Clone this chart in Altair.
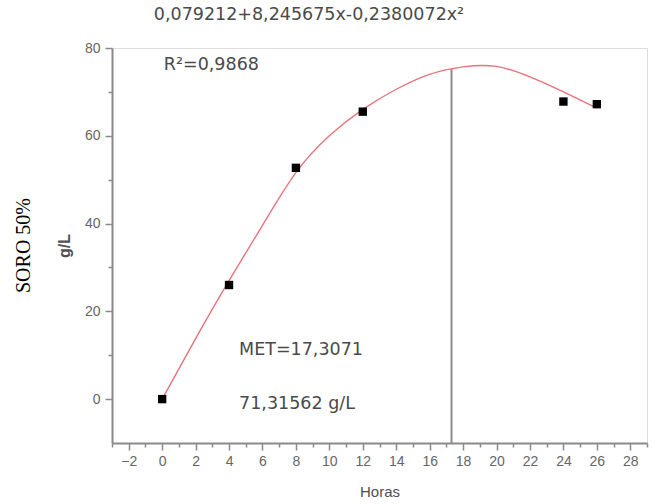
import altair as alt
import pandas as pd

# Measured concentrations (g/L) over time (hours)
horas = [0, 4, 8, 12, 24, 26]
conc = [0.0, 26.0, 52.7, 65.5, 67.8, 67.2]

# Fitted curve as drawn (hours, g/L)
curva_x = [0, 2, 4, 6, 8, 10, 12, 14, 16, 18, 20, 22, 24, 26]
curva_y = [0.0, 13.8, 27.0, 39.6, 51.6, 60.0, 66.0, 70.6, 74.0, 75.7, 75.8, 73.4, 70.0, 66.3]

# Time of maximum production and the marker line up to the curve
met_x = [17.3071, 17.3071]
met_y = [-10, 75.2]

# Annotation texts with their data positions
notas_txt = ["0,079212+8,245675x-0,2380072x²", "R²=0,9868", "MET=17,3071", "71,31562 g/L"]
notas_x = [-0.5, 0.1, 4.6, 4.6]
notas_y = [87.5, 76.1, 11.2, -1.1]

pontos = pd.DataFrame({"Horas": horas, "gL": conc})
curva = pd.DataFrame({"Horas": curva_x, "gL": curva_y})
met = pd.DataFrame({"Horas": met_x, "gL": met_y})
notas = pd.DataFrame({"Horas": notas_x, "gL": notas_y, "txt": notas_txt})

FONT = "Liberation Sans"

xscale = alt.Scale(domain=[-3, 29], nice=False, zero=False)
yscale = alt.Scale(domain=[-10, 80], nice=False, zero=False)

xaxis = alt.Axis(
    title="Horas",
    values=list(range(-3, 30)),
    labelExpr="datum.value % 2 === 0 ? datum.label : ''",
    tickSize={"condition": {"test": "datum.value % 2 === 0", "value": 7}, "value": 4},
    grid=False,
    domainColor="#8a8a8a", domainWidth=2,
    tickColor="#8a8a8a", tickWidth=1.5,
    labelFont=FONT, labelFontSize=14, labelColor="#666666", labelPadding=4,
    titleFont=FONT, titleFontSize=15, titleColor="#505050", titleFontWeight="normal",
    titlePadding=16,
)
yaxis = alt.Axis(
    title="g/L",
    values=list(range(0, 81, 10)),
    labelExpr="datum.value % 20 === 0 ? datum.label : ''",
    tickSize={"condition": {"test": "datum.value % 20 === 0", "value": 7}, "value": 4},
    grid=False,
    domainColor="#8a8a8a", domainWidth=2,
    tickColor="#8a8a8a", tickWidth=1.5,
    labelFont=FONT, labelFontSize=14, labelColor="#666666", labelPadding=5,
    titleFont=FONT, titleFontSize=16, titleColor="#505050", titleFontWeight="bold",
    titlePadding=12,
)

x = alt.X("Horas:Q", scale=xscale, axis=xaxis)
y = alt.Y("gL:Q", scale=yscale, axis=yaxis)

linha = alt.Chart(curva).mark_line(
    color="#e8737a", strokeWidth=1.4, interpolate="natural", clip=False
).encode(x=x, y=y)

vertical = alt.Chart(met).mark_line(color="#8c8c8c", strokeWidth=2).encode(x=x, y=y)

quadrados = alt.Chart(pontos).mark_square(size=70, color="#000000", opacity=1).encode(x=x, y=y)

textos = alt.Chart(notas).mark_text(
    font="DejaVu Sans", fontSize=17.5, color="#4a4a4a", align="left", baseline="middle"
).encode(x=x, y=y, text="txt:N")

chart = (
    alt.layer(vertical, linha, quadrados, textos)
    .properties(
        width=535,
        height=395,
        title=alt.TitleParams(
            "SORO 50%", orient="left", anchor="middle", font="Liberation Serif",
            fontSize=20, fontWeight="normal", color="#000000", offset=22,
        ),
        autosize=alt.AutoSizeParams(type="none"),
        padding={"left": 112, "top": 48, "right": 14, "bottom": 61},
    )
    .configure_view(stroke=None)
    .configure(background="#ffffff")
)

chart.save("out.html", embed_options={"renderer": "svg", "actions": False})
